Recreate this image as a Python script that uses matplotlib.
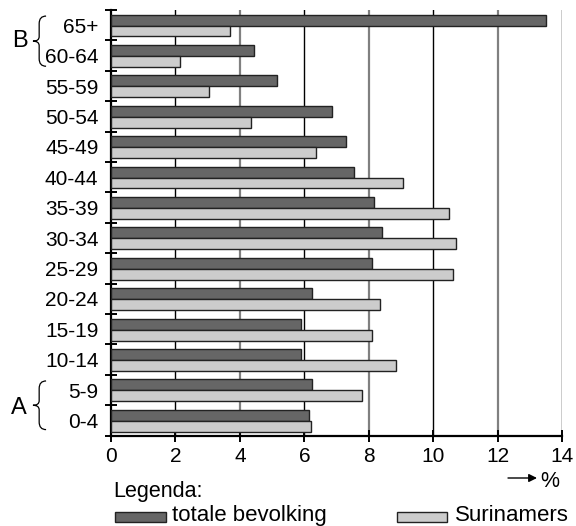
import matplotlib.pyplot as plt
from matplotlib.path import Path
from matplotlib.patches import PathPatch, Rectangle
import matplotlib.transforms as mtransforms

plt.rcParams['font.family'] = ['Liberation Sans', 'DejaVu Sans']

# leeftijdsgroepen van onder naar boven
groepen = ['0-4', '5-9', '10-14', '15-19', '20-24', '25-29', '30-34',
           '35-39', '40-44', '45-49', '50-54', '55-59', '60-64', '65+']
totaal = [6.15, 6.25, 5.9, 5.9, 6.25, 8.1, 8.4, 8.15, 7.55, 7.3, 6.85, 5.15, 4.45, 13.5]
surinamers = [6.2, 7.8, 8.85, 8.1, 8.35, 10.6, 10.7, 10.5, 9.05, 6.35, 4.35, 3.05, 2.15, 3.7]
x_ticks = [0, 2, 4, 6, 8, 10, 12, 14]

fig = plt.figure(figsize=(5.76, 5.26), dpi=100)
ax = fig.add_axes([0.1927, 0.1717, 0.7835, 0.8093])

# rasterlijnen: afwisselend zwart en grijs
for x in x_ticks[1:]:
    if x % 4 == 0:
        ax.axvline(x, color='#808080', lw=1.6, zorder=1)
    else:
        ax.axvline(x, color='black', lw=1.0, zorder=1)

pos = range(len(groepen))
h = 0.36
ax.barh([p + 0.67 for p in pos], totaal, height=h, color='#666666',
        edgecolor='#222222', lw=1.0, zorder=3)
ax.barh([p + 0.31 for p in pos], surinamers, height=h, color='#cccccc',
        edgecolor='#222222', lw=1.0, zorder=3)

ax.set_xlim(0, 14)
ax.set_ylim(0, 14)
for s in ['top', 'right']:
    ax.spines[s].set_visible(False)
for s in ['left', 'bottom']:
    ax.spines[s].set_linewidth(1.6)

ax.set_xticks(x_ticks)
ax.set_xticklabels([str(x) for x in x_ticks], fontsize=15)
ax.tick_params(axis='x', direction='inout', length=8, width=1.4, pad=4)

ax.set_yticks([p + 0.5 for p in pos])
ax.set_yticklabels(groepen, fontsize=15)
ax.set_yticks(range(15), minor=True)
ax.tick_params(axis='y', which='major', length=0, pad=9)
ax.tick_params(axis='y', which='minor', direction='inout', length=8, width=1.4)


def accolade(y0, y1, x=0.068, w=0.012):
    # accolade in figuurcoördinaten voor x, data voor y
    tr = mtransforms.blended_transform_factory(fig.transFigure, ax.transData)
    ym = (y0 + y1) / 2
    verts = [(x + w, y1), (x, y1), (x, y1 - 0.25), (x, ym + 0.15),
             (x, ym), (x - w * 0.9, ym), (x - w * 0.9, ym),
             (x, ym), (x, ym - 0.15), (x, y0 + 0.25),
             (x, y0), (x + w, y0)]
    codes = [Path.MOVETO, Path.CURVE3, Path.CURVE3, Path.LINETO,
             Path.CURVE3, Path.CURVE3, Path.MOVETO,
             Path.CURVE3, Path.CURVE3, Path.LINETO,
             Path.CURVE3, Path.CURVE3]
    ax.add_patch(PathPatch(Path(verts, codes), fc='none', ec='black',
                           lw=0.9, transform=tr, clip_on=False))


accolade(12.15, 13.8)
accolade(0.2, 1.8)
fig.text(0.035, 1 - 41 / 526, 'B', fontsize=17, ha='center', va='center')
fig.text(0.032, 1 - 408 / 526, 'A', fontsize=17, ha='center', va='center')

# pijl met %
yp = 1 - 478 / 526
ax.annotate('', xy=(537 / 576, yp), xytext=(508 / 576, yp),
            xycoords='figure fraction',
            arrowprops=dict(arrowstyle='-|>', color='black', lw=1.0,
                            mutation_scale=12, shrinkA=0, shrinkB=0))
fig.text(540 / 576, 1 - 487 / 526, '%', fontsize=15.5, ha='left', va='baseline')

# legenda
fig.text(113 / 576, 1 - 497 / 526, 'Legenda:', fontsize=15.5, ha='left', va='baseline')
fig.add_artist(Rectangle((115 / 576, 1 - 522 / 526), 51 / 576, 10 / 526,
                         transform=fig.transFigure, fc='#666666', ec='#222222', lw=1.0))
fig.text(172 / 576, 1 - 521 / 526, 'totale bevolking', fontsize=16, ha='left', va='baseline')
fig.add_artist(Rectangle((397 / 576, 1 - 522 / 526), 50 / 576, 10 / 526,
                         transform=fig.transFigure, fc='#cccccc', ec='#222222', lw=1.0))
fig.text(455 / 576, 1 - 521 / 526, 'Surinamers', fontsize=16, ha='left', va='baseline')

fig.savefig('out.png', dpi=100)
